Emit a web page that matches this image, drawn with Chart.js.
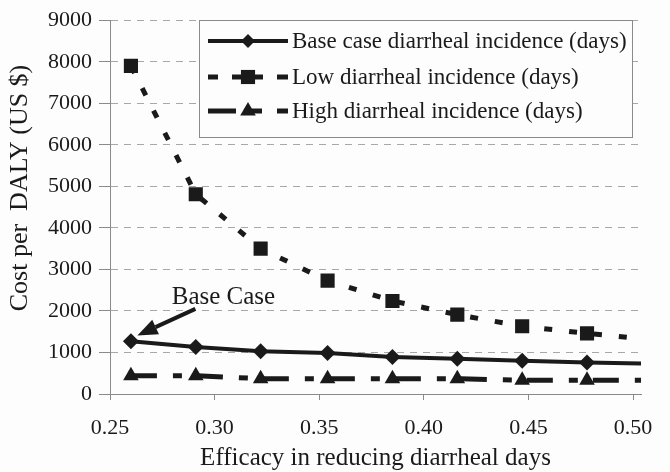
<!DOCTYPE html>
<html>
<head>
<meta charset="utf-8">
<script src="https://cdn.jsdelivr.net/npm/chart.js@4.4.1/dist/chart.umd.min.js"></script>
<style>
  html, body { margin: 0; padding: 0; background: #fdfdfd; }
</style>
</head>
<body>
<canvas id="chart" width="670" height="472"></canvas>
<script>
// efficacy in reducing diarrheal days (x) and cost per DALY (y)
const efficacy = [0.26, 0.291, 0.322, 0.354, 0.385, 0.416, 0.447, 0.478, 0.509];
const baseCase = [1270, 1130, 1030, 990, 890, 850, 800, 760, 730];
const lowIncidence = [7900, 4810, 3500, 2730, 2240, 1910, 1630, 1460, 1310];
const highIncidence = [440, 440, 370, 370, 370, 370, 330, 330, 330];
const seriesNames = [
  'Base case diarrheal incidence (days)',
  'Low diarrheal incidence (days)',
  'High diarrheal incidence (days)'
];
const xTicks = [0.25, 0.30, 0.35, 0.40, 0.45, 0.50];
const yTitle = 'Cost per  DALY (US $)';

// "Base Case" callout, in data units
const calloutText = { x: 0.2795, y: 2170 };
const calloutFrom = { x: 0.2908, y: 2050 };
const calloutTo = { x: 0.2631, y: 1410 };

const ink = '#1a1a1a';
const axisGray = '#8a8a8a';
const gridGray = '#a8a8a8';
const serif = "'Liberation Serif', 'Times New Roman', serif";

function toPoints(ys) {
  return efficacy.map((x, i) => ({ x: x, y: ys[i] }));
}

function marker(ctx, style, x, y, r) {
  ctx.beginPath();
  if (style === 'rectRot') {
    ctx.moveTo(x - r, y); ctx.lineTo(x, y - r); ctx.lineTo(x + r, y); ctx.lineTo(x, y + r);
  } else if (style === 'rect') {
    const s = r * Math.SQRT1_2;
    ctx.rect(x - s, y - s, 2 * s, 2 * s);
  } else {
    ctx.moveTo(x, y - r);
    ctx.lineTo(x + r * Math.sin(Math.PI / 3), y + r / 2);
    ctx.lineTo(x - r * Math.sin(Math.PI / 3), y + r / 2);
  }
  ctx.closePath();
  ctx.fill();
}

// boxed legend drawn inside the plot, like the original
const boxLegend = {
  id: 'boxLegend',
  afterDraw(chart) {
    const ctx = chart.ctx;
    ctx.save();
    ctx.fillStyle = '#fdfdfd';
    ctx.fillRect(199.5, 20.5, 433, 117);
    ctx.strokeStyle = axisGray;
    ctx.lineWidth = 1;
    ctx.strokeRect(199.5, 20.5, 433, 117);

    const rows = [
      { y: 41, style: 'rectRot', r: 7, width: 4, segs: [[208, 288]] },
      { y: 77, style: 'rect', r: 10, width: 5, segs: [[208, 218], [232, 263], [277, 288]] },
      { y: 111, style: 'triangle', r: 9, width: 5, segs: [[208, 236], [244, 262], [277, 288]] }
    ];
    ctx.fillStyle = ink;
    ctx.strokeStyle = ink;
    ctx.font = '23px ' + serif;
    ctx.textBaseline = 'middle';
    rows.forEach((row, i) => {
      ctx.lineWidth = row.width;
      row.segs.forEach(s => {
        ctx.beginPath();
        ctx.moveTo(s[0], row.y);
        ctx.lineTo(s[1], row.y);
        ctx.stroke();
      });
      marker(ctx, row.style, 248, row.y, row.r);
      ctx.fillText(seriesNames[i], 292, row.y + 1);
    });
    ctx.restore();
  }
};

const callout = {
  id: 'callout',
  afterDraw(chart) {
    const { ctx, scales: { x, y } } = chart;
    ctx.save();
    ctx.fillStyle = ink;
    ctx.strokeStyle = ink;
    ctx.font = '25px ' + serif;
    ctx.textBaseline = 'alphabetic';
    ctx.fillText('Base Case', x.getPixelForValue(calloutText.x), y.getPixelForValue(calloutText.y));

    const x1 = x.getPixelForValue(calloutFrom.x), y1 = y.getPixelForValue(calloutFrom.y);
    const x2 = x.getPixelForValue(calloutTo.x), y2 = y.getPixelForValue(calloutTo.y);
    const ang = Math.atan2(y2 - y1, x2 - x1);
    const head = 20, half = 8;
    const bx = x2 - head * Math.cos(ang), by = y2 - head * Math.sin(ang);
    ctx.lineWidth = 4;
    ctx.beginPath();
    ctx.moveTo(x1, y1);
    ctx.lineTo(bx, by);
    ctx.stroke();
    ctx.beginPath();
    ctx.moveTo(x2, y2);
    ctx.lineTo(bx + half * Math.sin(ang), by - half * Math.cos(ang));
    ctx.lineTo(bx - half * Math.sin(ang), by + half * Math.cos(ang));
    ctx.closePath();
    ctx.fill();

    // y axis title, sitting a little above the middle of the axis
    ctx.translate(20, 188);
    ctx.rotate(-Math.PI / 2);
    ctx.font = '26px ' + serif;
    ctx.textAlign = 'center';
    ctx.textBaseline = 'middle';
    ctx.fillText(yTitle, 0, 0);
    ctx.restore();
  }
};

const clipRight = { left: 12, top: 12, right: 0, bottom: 12 };

new Chart(document.getElementById('chart'), {
  type: 'line',
  data: {
    datasets: [
      {
        label: seriesNames[0],
        data: toPoints(baseCase),
        borderColor: ink,
        backgroundColor: ink,
        borderWidth: 4,
        pointStyle: 'rectRot',
        pointRadius: 8,
        pointBorderWidth: 0,
        clip: clipRight
      },
      {
        label: seriesNames[1],
        data: toPoints(lowIncidence),
        borderColor: ink,
        backgroundColor: ink,
        borderWidth: 5,
        borderDash: [8, 17],
        pointStyle: 'rect',
        pointRadius: 10,
        pointBorderWidth: 0,
        clip: clipRight
      },
      {
        label: seriesNames[2],
        data: toPoints(highIncidence),
        borderColor: ink,
        backgroundColor: ink,
        borderWidth: 5,
        borderDash: [26, 16, 9, 15],
        pointStyle: 'triangle',
        pointRadius: 9,
        pointBorderWidth: 0,
        clip: clipRight
      }
    ]
  },
  options: {
    responsive: false,
    animation: false,
    events: [],
    layout: { padding: { left: 0, right: 29, top: 16, bottom: 0 } },
    plugins: {
      legend: { display: false },
      tooltip: { enabled: false }
    },
    scales: {
      x: {
        type: 'linear',
        min: 0.25,
        max: 0.5038,
        afterBuildTicks: s => { s.ticks = xTicks.map(v => ({ value: v })); },
        afterFit: s => { s.height = 78; },
        ticks: {
          callback: v => v.toFixed(2),
          font: { family: serif, size: 22 },
          color: ink,
          padding: 15,
          maxRotation: 0
        },
        grid: { drawOnChartArea: false, drawTicks: true, tickLength: 6, color: axisGray },
        border: { color: axisGray, width: 1 },
        title: {
          display: true,
          text: 'Efficacy in reducing diarrheal days',
          font: { family: serif, size: 25, lineHeight: 1.1 },
          color: ink,
          padding: { top: 0, bottom: 0 }
        }
      },
      y: {
        min: 0,
        max: 9000,
        afterFit: s => { s.width = 110; },
        ticks: {
          stepSize: 1000,
          callback: v => String(v),
          font: { family: serif, size: 22 },
          color: ink,
          padding: 7
        },
        grid: {
          color: c => (c.tick && c.tick.value === 0 ? 'rgba(0,0,0,0)' : gridGray),
          tickColor: axisGray,
          tickLength: 11
        },
        border: { color: axisGray, width: 1, dash: [7, 6] }
      }
    }
  },
  plugins: [boxLegend, callout]
});
</script>
</body>
</html>
